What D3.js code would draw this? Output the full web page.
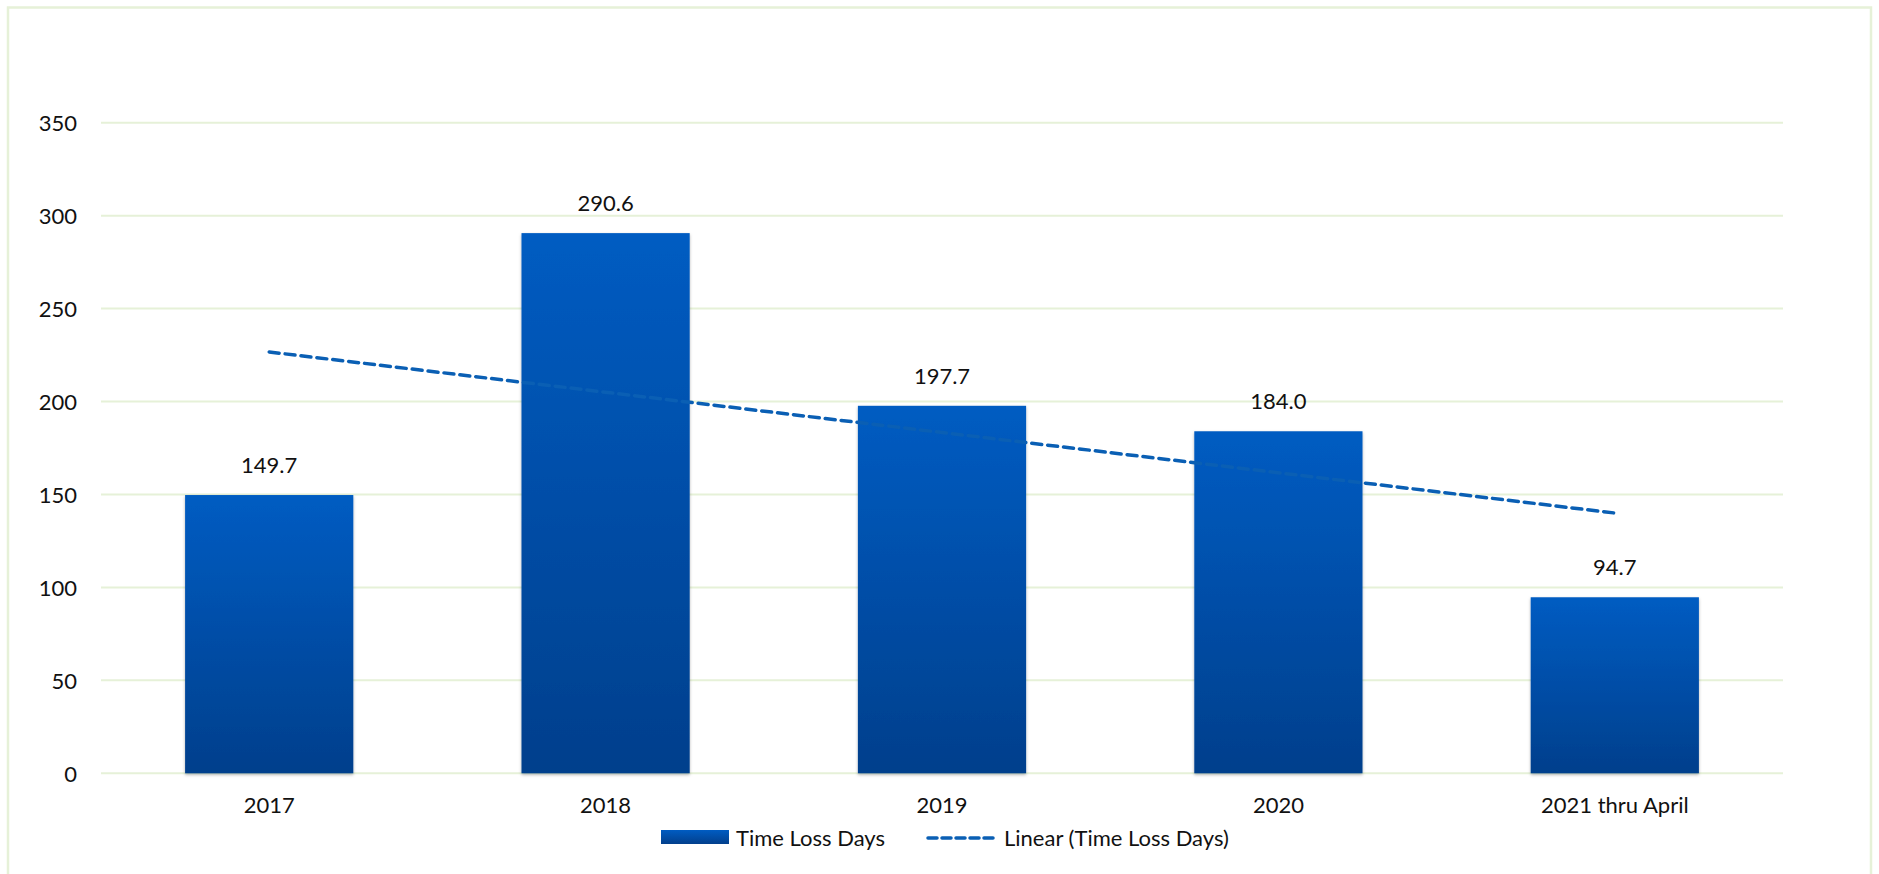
<!DOCTYPE html>
<html lang="en">
<head>
  <meta charset="UTF-8">
  <script src="https://d3js.org/d3.v7.min.js"></script>
  <title>Time Loss Days</title>
  <style>
    body { margin: 0; background: #fff; font-family: Lato, "Open Sans", sans-serif; }
    svg text { fill: #111; }
  </style>
</head>
<body>
<div id="chart"></div>
<script>
  var categories = ["2017", "2018", "2019", "2020", "2021 thru April"];
  var values = [149.7, 290.6, 197.7, 184.0, 94.7];
  var yTicks = [0, 50, 100, 150, 200, 250, 300, 350];

  var W = 1879, H = 874;
  var margin = { top: 122.7, right: 96, bottom: 100.7, left: 101 };
  var width = W - margin.left - margin.right,
      height = H - margin.top - margin.bottom;
  var fs = 22;

  var svg = d3.select("#chart").append("svg")
    .attr("width", W).attr("height", H);

  var defs = svg.append("defs");
  var grad = defs.append("linearGradient").attr("id", "barGrad")
    .attr("x1", 0).attr("y1", 0).attr("x2", 0).attr("y2", 1);
  grad.append("stop").attr("offset", "0%").attr("stop-color", "#005cc2");
  grad.append("stop").attr("offset", "100%").attr("stop-color", "#023f8c");
  var shadow = defs.append("filter").attr("id", "shadow")
    .attr("x", "-10%").attr("y", "-10%").attr("width", "120%").attr("height", "120%");
  shadow.append("feDropShadow").attr("dx", 0).attr("dy", 1.5)
    .attr("stdDeviation", 1.5).attr("flood-color", "#000").attr("flood-opacity", 0.3);

  // outer frame
  svg.append("rect")
    .attr("x", 8).attr("y", 7.5).attr("width", 1863).attr("height", 880)
    .attr("fill", "none").attr("stroke", "#e6f1d8").attr("stroke-width", 2.5);

  var g = svg.append("g")
    .attr("transform", "translate(" + margin.left + "," + margin.top + ")");

  var x = d3.scaleBand().domain(categories).range([0, width]).paddingInner(0.5).paddingOuter(0.25);
  var y = d3.scaleLinear().domain([0, 350]).range([height, 0]);

  // gridlines
  g.selectAll(".grid").data(yTicks).enter().append("line")
    .attr("x1", 0).attr("x2", width)
    .attr("y1", d => y(d)).attr("y2", d => y(d))
    .attr("stroke", "#e6f1d8").attr("stroke-width", 2);

  // y axis
  var yAxis = g.append("g")
    .call(d3.axisLeft(y).tickValues(yTicks).tickSize(0).tickPadding(24));
  yAxis.select(".domain").remove();
  yAxis.selectAll("text").attr("font-size", fs).attr("font-family", "Lato, sans-serif").attr("dy", "0.35em");

  // bars
  g.selectAll(".bar").data(values).enter().append("rect")
    .attr("x", (d, i) => x(categories[i]))
    .attr("y", d => y(d))
    .attr("width", x.bandwidth())
    .attr("height", d => height - y(d))
    .attr("fill", "url(#barGrad)")
    .attr("filter", "url(#shadow)");

  // value labels
  g.selectAll(".lbl").data(values).enter().append("text")
    .attr("x", (d, i) => x(categories[i]) + x.bandwidth() / 2)
    .attr("y", d => y(d) - 22)
    .attr("text-anchor", "middle")
    .attr("font-size", fs)
    .text(d => d.toFixed(1));

  // linear trendline (least squares over category index)
  var n = values.length;
  var xs = values.map((d, i) => i + 1);
  var mx = d3.mean(xs), my = d3.mean(values);
  var slope = d3.sum(xs, (xi, i) => (xi - mx) * (values[i] - my)) / d3.sum(xs, xi => (xi - mx) * (xi - mx));
  var icpt = my - slope * mx;
  var trend = [1, n].map(xi => ({ c: categories[xi - 1], v: icpt + slope * xi }));

  g.append("path")
    .datum(trend)
    .attr("fill", "none")
    .attr("stroke", "#0a5fb4")
    .attr("stroke-width", 3.5)
    .attr("stroke-dasharray", "10,6")
    .attr("stroke-linecap", "round")
    .attr("d", d3.line().x(d => x(d.c) + x.bandwidth() / 2).y(d => y(d.v)));

  // x axis labels
  var xAxis = g.append("g")
    .attr("transform", "translate(0," + height + ")")
    .call(d3.axisBottom(x).tickSize(0).tickPadding(0));
  xAxis.select(".domain").remove();
  xAxis.selectAll("text").attr("font-size", fs).attr("font-family", "Lato, sans-serif")
    .attr("dy", null).attr("y", 40);

  // legend
  var leg = svg.append("g");
  leg.append("rect")
    .attr("x", 661).attr("y", 830).attr("width", 68).attr("height", 14)
    .attr("fill", "url(#barGrad)");
  leg.append("text").attr("x", 736).attr("y", 846)
    .attr("font-size", fs).text("Time Loss Days");
  leg.append("line")
    .attr("x1", 928).attr("x2", 996).attr("y1", 838).attr("y2", 838)
    .attr("stroke", "#0a5fb4").attr("stroke-width", 3.5)
    .attr("stroke-dasharray", "9,5").attr("stroke-linecap", "round");
  leg.append("text").attr("x", 1004).attr("y", 846)
    .attr("font-size", fs).text("Linear (Time Loss Days)");
</script>
</body>
</html>
